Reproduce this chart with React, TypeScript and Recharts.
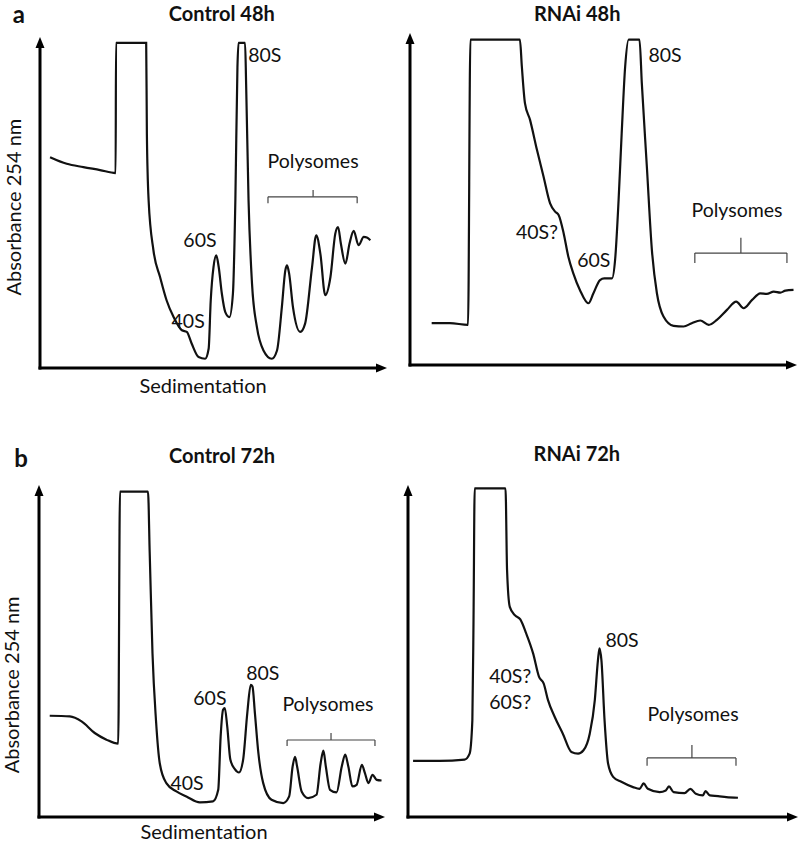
import { LineChart, Line, XAxis, YAxis, ReferenceLine, ReferenceDot } from 'recharts'

type Pt = [number, number]
type Note = { text: string; x: number; y: number }
type Brace = { x1: number; x2: number; y: number; drop: number; mid: number; tick: number }

// sedimentation (0-100) vs absorbance at 254 nm (0-100)
const control48h: Pt[] = [
  [2.9, 63.7], [7.7, 61.7], [12.5, 60.7], [17.3, 59.8], [21.8, 58.9], [21.9, 98.2], [30.6, 98.2],
  [30.8, 70.8], [31.3, 50.7], [32.7, 35.5], [34.6, 27.5], [36.5, 20.4], [38.5, 15.4], [40.9, 11.4],
  [42.3, 10.9], [43.7, 7.4], [45.7, 3.3], [47.6, 2.8], [48.6, 5.8], [49.2, 20.4], [50.0, 30.5],
  [50.8, 34.0], [51.5, 30.5], [52.4, 22.5], [53.4, 16.9], [54.6, 15.4], [55.6, 22.5], [56.3, 50.7],
  [56.9, 90.9], [57.2, 98.2], [59.1, 98.2], [59.4, 85.9], [60.1, 50.7], [61.1, 25.5], [62.5, 12.4],
  [64.4, 5.3], [66.8, 2.8], [68.3, 5.3], [69.7, 18.4], [70.7, 29.5], [71.2, 31.0], [71.8, 28.5],
  [72.9, 18.4], [75.0, 10.9], [76.4, 13.4], [78.4, 30.5], [79.6, 40.1], [80.8, 34.5], [82.2, 22.0],
  [83.7, 27.5], [85.1, 40.6], [85.9, 42.6], [86.7, 37.6], [88.0, 31.5], [89.2, 37.6], [90.4, 41.4],
  [91.8, 37.1], [93.3, 39.6], [94.2, 39.4], [95.2, 38.6],
]

const rnai48h: Pt[] = [
  [5.6, 12.6], [10.3, 12.6], [15.0, 12.1], [15.6, 98.0], [28.4, 98.0], [28.9, 89.9], [29.7, 78.9],
  [31.0, 73.9], [32.8, 64.8], [34.5, 56.8], [36.2, 48.7], [37.5, 46.2], [38.4, 45.2], [39.7, 39.7],
  [40.9, 32.7], [42.2, 27.6], [43.9, 22.6], [46.1, 18.6], [47.4, 21.6], [49.1, 25.6], [50.2, 26.1],
  [52.2, 26.1], [53.0, 31.7], [53.9, 49.7], [54.7, 69.8], [55.6, 89.9], [56.5, 98.0], [59.3, 98.0],
  [59.9, 84.9], [61.2, 59.8], [62.5, 34.7], [63.8, 21.6], [65.5, 14.6], [68.1, 11.8], [70.7, 11.6],
  [72.8, 12.6], [75.0, 13.4], [77.2, 12.1], [79.3, 13.6], [81.9, 16.6], [84.3, 19.1], [86.2, 17.1],
  [88.4, 19.6], [90.5, 21.6], [92.2, 21.4], [94.0, 22.1], [95.7, 21.8], [97.0, 22.4], [99.1, 22.6],
]

const control72h: Pt[] = [
  [3.1, 30.5], [8.9, 30.3], [12.3, 28.8], [16.1, 25.3], [19.5, 23.3], [22.9, 22.1], [23.4, 98.0],
  [31.5, 98.0], [32.0, 79.4], [32.8, 49.3], [33.8, 29.3], [34.9, 16.2], [36.8, 10.2], [39.7, 7.7],
  [42.6, 6.2], [46.5, 4.4], [50.3, 4.7], [51.8, 8.2], [52.5, 24.3], [53.2, 32.3], [53.7, 32.8],
  [54.4, 27.3], [55.3, 17.3], [56.6, 14.4], [57.8, 13.4], [59.0, 17.3], [60.2, 31.3], [61.2, 39.8],
  [61.7, 39.3], [62.4, 31.3], [63.4, 19.3], [64.8, 10.2], [67.2, 5.2], [70.6, 4.2], [72.3, 6.2],
  [73.3, 15.2], [74.0, 18.1], [74.6, 15.2], [75.9, 7.7], [77.8, 5.7], [80.2, 6.7], [81.4, 16.2],
  [82.2, 20.0], [82.9, 15.2], [84.1, 8.2], [86.0, 7.4], [87.5, 15.2], [88.5, 18.8], [89.4, 15.2],
  [90.6, 9.2], [91.8, 9.7], [93.3, 15.7], [94.2, 13.2], [95.2, 10.2], [96.4, 12.7], [97.6, 11.2],
  [99.0, 11.0],
]

const rnai72h: Pt[] = [
  [1.3, 16.9], [8.1, 16.9], [14.5, 17.3], [15.8, 19.1], [16.5, 29.1], [16.8, 59.3], [17.1, 99.0],
  [25.0, 99.0], [25.4, 74.4], [26.1, 63.3], [27.4, 60.8], [28.8, 59.5], [30.3, 55.3], [32.1, 49.2],
  [33.6, 42.2], [34.8, 40.2], [35.9, 35.2], [37.6, 30.2], [39.7, 25.1], [41.9, 19.6], [43.6, 19.1],
  [45.0, 20.1], [46.6, 25.1], [47.9, 35.2], [48.7, 47.2], [49.1, 50.8], [49.6, 47.2], [50.4, 29.1],
  [51.3, 16.1], [52.6, 12.1], [54.7, 10.6], [57.7, 9.0], [59.4, 8.5], [60.4, 10.1], [61.5, 8.5],
  [64.5, 7.5], [66.1, 8.0], [66.9, 9.2], [68.1, 7.5], [70.9, 7.2], [72.4, 8.5], [73.8, 7.0],
  [75.6, 6.5], [76.3, 7.8], [77.4, 6.5], [79.5, 6.3], [81.6, 6.0], [84.6, 5.8],
]

const control48hNotes: Note[] = [
  { text: '80S', x: 64.8, y: 94.6 },
  { text: '60S', x: 46.1, y: 38.7 },
  { text: '40S', x: 42.7, y: 14.5 },
  { text: 'Polysomes', x: 78.7, y: 62.8 },
]
const rnai48hNotes: Note[] = [
  { text: '80S', x: 65.9, y: 93.4 },
  { text: '40S?', x: 32.8, y: 40.1 },
  { text: '60S', x: 47.5, y: 31.9 },
  { text: 'Polysomes', x: 84.5, y: 46.7 },
]
const control72hNotes: Note[] = [
  { text: '80S', x: 64.7, y: 43.4 },
  { text: '60S', x: 49.4, y: 36.1 },
  { text: '40S', x: 42.8, y: 10.5 },
  { text: 'Polysomes', x: 83.5, y: 34.3 },
]
const rnai72hNotes: Note[] = [
  { text: '80S', x: 54.9, y: 53.6 },
  { text: '40S?', x: 26.2, y: 42.5 },
  { text: '60S?', x: 26.2, y: 34.9 },
  { text: 'Polysomes', x: 73.1, y: 31.3 },
]

const FONT = "Lato, 'Open Sans', sans-serif"
const INK = '#111'

const Arrow = (props: any) => {
  const { x1, y1, x2, y2 } = props
  const dx = x2 - x1
  const dy = y2 - y1
  const len = Math.hypot(dx, dy) || 1
  const ux = dx / len
  const uy = dy / len
  const head = 11
  const half = 4.5
  const bx = x2 - ux * head
  const by = y2 - uy * head
  return (
    <g>
      <line x1={x1 - ux * 1.5} y1={y1 - uy * 1.5} x2={bx + ux} y2={by + uy} stroke="#000" strokeWidth={3} />
      <polygon
        points={`${x2},${y2} ${bx - uy * half},${by + ux * half} ${bx + uy * half},${by - ux * half}`}
        fill="#000"
      />
    </g>
  )
}

const textShape = (text: string, size: number, bold = false, rotate = false) => (p: any) => (
  <text
    x={p.cx}
    y={p.cy}
    textAnchor="middle"
    dominantBaseline="central"
    fontSize={size}
    fontWeight={bold ? 700 : 400}
    fontFamily={FONT}
    fill={INK}
    transform={rotate ? `rotate(-90 ${p.cx} ${p.cy})` : undefined}
  >
    {text}
  </text>
)

type PanelProps = {
  left: number
  top: number
  width: number
  height: number
  margin: { top: number; right: number; bottom: number; left: number }
  series: Pt[]
  notes: Note[]
  brace: Brace
  title: string
  titleAt: [number, number]
  letter?: { text: string; x: number; y: number }
  yLabelAt?: [number, number]
  xLabelAt?: [number, number]
}

const Panel = (p: PanelProps) => {
  const rows = p.series.map(([x, y]) => ({ x, y }))
  const b = p.brace
  const braceSegs = [
    [{ x: b.x1, y: b.drop }, { x: b.x1, y: b.y }],
    [{ x: b.x1, y: b.y }, { x: b.x2, y: b.y }],
    [{ x: b.x2, y: b.y }, { x: b.x2, y: b.drop }],
    [{ x: b.mid, y: b.y }, { x: b.mid, y: b.tick }],
  ]
  return (
    <div style={{ position: 'absolute', left: p.left, top: p.top }}>
      <LineChart width={p.width} height={p.height} data={rows} margin={p.margin}>
        <XAxis type="number" dataKey="x" domain={[0, 100]} hide />
        <YAxis type="number" domain={[0, 100]} hide />
        <ReferenceLine segment={[{ x: 0, y: 0 }, { x: 100, y: 0 }]} ifOverflow="visible" shape={Arrow} />
        <ReferenceLine segment={[{ x: 0, y: 0 }, { x: 0, y: 100 }]} ifOverflow="visible" shape={Arrow} />
        {braceSegs.map((s, i) => (
          <ReferenceLine key={i} segment={s} ifOverflow="visible" stroke="#444" strokeWidth={1.2} />
        ))}
        <Line
          type="monotone"
          dataKey="y"
          stroke={INK}
          strokeWidth={2.2}
          dot={false}
          isAnimationActive={false}
        />
        {p.notes.map((n) => (
          <ReferenceDot key={n.text} x={n.x} y={n.y} r={0} ifOverflow="visible" shape={textShape(n.text, 19.5)} />
        ))}
        <ReferenceDot x={p.titleAt[0]} y={p.titleAt[1]} r={0} ifOverflow="visible" shape={textShape(p.title, 20, true)} />
        {p.letter && (
          <ReferenceDot x={p.letter.x} y={p.letter.y} r={0} ifOverflow="visible" shape={textShape(p.letter.text, 24, true)} />
        )}
        {p.yLabelAt && (
          <ReferenceDot x={p.yLabelAt[0]} y={p.yLabelAt[1]} r={0} ifOverflow="visible" shape={textShape('Absorbance 254 nm', 20, false, true)} />
        )}
        {p.xLabelAt && (
          <ReferenceDot x={p.xLabelAt[0]} y={p.xLabelAt[1]} r={0} ifOverflow="visible" shape={textShape('Sedimentation', 20)} />
        )}
      </LineChart>
    </div>
  )
}

export default function App() {
  return (
    <div style={{ position: 'absolute', left: 0, top: 0, width: 800, height: 843, background: '#fff', overflow: 'hidden' }}>
      <Panel
        left={0}
        top={0}
        width={400}
        height={400}
        margin={{ top: 37, right: 13, bottom: 32, left: 40 }}
        series={control48h}
        notes={control48hNotes}
        brace={{ x1: 65.7, x2: 91.4, y: 51.7, drop: 49.8, mid: 78.7, tick: 53.8 }}
        title="Control 48h"
        titleAt={[52.4, 107.3]}
        letter={{ text: 'a', x: -6.1, y: 107.0 }}
        yLabelAt={[-7.8, 48.6]}
        xLabelAt={[47.0, -5.1]}
      />
      <Panel
        left={400}
        top={0}
        width={400}
        height={400}
        margin={{ top: 33, right: 3, bottom: 35, left: 10 }}
        series={rnai48h}
        notes={rnai48hNotes}
        brace={{ x1: 73.6, x2: 97.4, y: 33.7, drop: 30.7, mid: 85.5, tick: 38.3 }}
        title="RNAi 48h"
        titleAt={[43.2, 106.0]}
      />
      <Panel
        left={0}
        top={420}
        width={400}
        height={423}
        margin={{ top: 65, right: 15, bottom: 26, left: 39 }}
        series={control72h}
        notes={control72hNotes}
        brace={{ x1: 71.7, x2: 97.1, y: 23.2, drop: 21.4, mid: 84.4, tick: 25.3 }}
        title="Control 72h"
        titleAt={[52.9, 109.0]}
        letter={{ text: 'b', x: -5.2, y: 108.4 }}
        yLabelAt={[-8.1, 39.8]}
        xLabelAt={[47.7, -4.2]}
      />
      <Panel
        left={400}
        top={420}
        width={400}
        height={423}
        margin={{ top: 65, right: 2, bottom: 26, left: 8 }}
        series={rnai72h}
        notes={rnai72hNotes}
        brace={{ x1: 61.3, x2: 84.1, y: 17.8, drop: 15.4, mid: 72.8, tick: 21.7 }}
        title="RNAi 72h"
        titleAt={[43.3, 109.6]}
      />
    </div>
  )
}
